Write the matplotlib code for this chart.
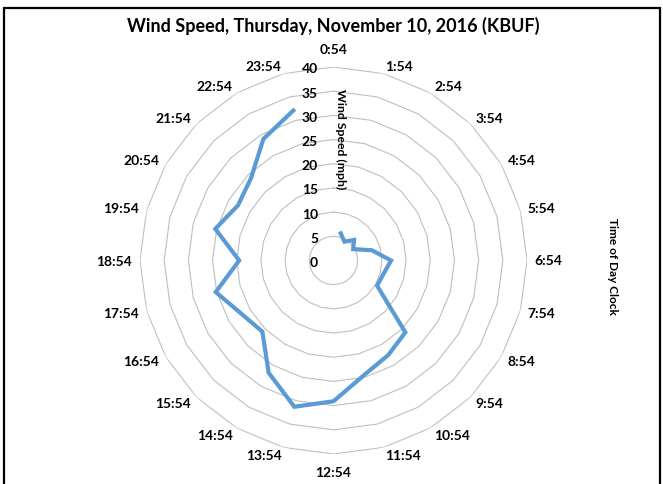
import matplotlib
matplotlib.use('Agg')
import matplotlib.pyplot as plt
import numpy as np

# hourly observations (KBUF), wind speed in mph; 0:54 missing
times = ["0:54", "1:54", "2:54", "3:54", "4:54", "5:54", "6:54", "7:54",
         "8:54", "9:54", "10:54", "11:54", "12:54", "13:54", "14:54", "15:54",
         "16:54", "17:54", "18:54", "19:54", "20:54", "21:54", "22:54", "23:54"]
speed = [np.nan, 5.8, 4.5, 6.0, 4.7, 8.2, 11.9, 10.7,
         10.4, 21.0, 22.6, 24.5, 29.1, 31.3, 26.8, 20.8,
         22.0, 25.2, 19.5, 25.3, 22.8, 24.1, 29.0, 32.1]
rings = [5, 10, 15, 20, 25, 30, 35, 40]
ring_labels = [0, 5, 10, 15, 20, 25, 30, 35, 40]

plt.rcParams['font.family'] = ['Lato', 'DejaVu Sans']

W, H = 663, 485
fig = plt.figure(figsize=(W / 100, H / 100), dpi=100)

# outer frame of the chart area (bottom edge falls outside the image)
fig.add_artist(plt.Rectangle((4 / W, -10 / H), 656 / W, 486 / H,
                             transform=fig.transFigure, fill=False,
                             edgecolor='black', linewidth=1.6))

cx, cy, R = 333.5, 261.5, 193.5
ax = fig.add_axes([(cx - R) / W, (H - cy - R) / H, 2 * R / W, 2 * R / H],
                  polar=True)
ax.set_theta_zero_location('N')
ax.set_theta_direction(-1)
ax.set_ylim(0, 40)
ax.grid(False)
ax.set_xticks([])
ax.set_yticks([])
ax.spines['polar'].set_visible(False)
ax.patch.set_alpha(0)

theta = np.arange(len(times)) * 2 * np.pi / len(times)
theta_closed = np.append(theta, theta[0])
for r in rings:
    ax.plot(theta_closed, [r] * len(theta_closed), color='#BFBFBF',
            linewidth=0.8, zorder=1)

ax.plot(theta, speed, color='#5B9BD5', linewidth=3.0, zorder=3,
        solid_joinstyle='miter')

# radial value labels, left of the vertical axis
for v in ring_labels:
    ax.annotate(str(v), xy=(0, v), xytext=(-15.5, -1.5),
                textcoords='offset pixels', ha='right', va='center',
                fontsize=10, fontweight='bold')

# category labels around the outside (Excel-style placement)
for t, lab in zip(theta, times):
    s, c = np.sin(t), np.cos(t)
    if abs(s) < 0.05:
        ha, off = 'center', (0, 18 * c)
    else:
        ha, off = ('left' if s > 0 else 'right'), (7.7 * s, 7.5 * c)
    ax.annotate(lab, xy=(t, 40), xytext=off, textcoords='offset pixels',
                ha=ha, va='center', fontsize=10, fontweight='bold',
                annotation_clip=False)

fig.text(341 / W, 1 - 139 / H, 'Wind Speed (mph)', rotation=-90,
         ha='center', va='center', fontsize=8.8, fontweight='bold')
fig.text(612.5 / W, 1 - 266 / H, 'Time of Day Clock', rotation=-90,
         ha='center', va='center', fontsize=8.6, fontweight='bold')
fig.text(333 / W, 1 - 26 / H, 'Wind Speed, Thursday, November 10, 2016 (KBUF)',
         ha='center', va='center', fontsize=13, fontweight='bold')

fig.savefig('out.png', dpi=100)
